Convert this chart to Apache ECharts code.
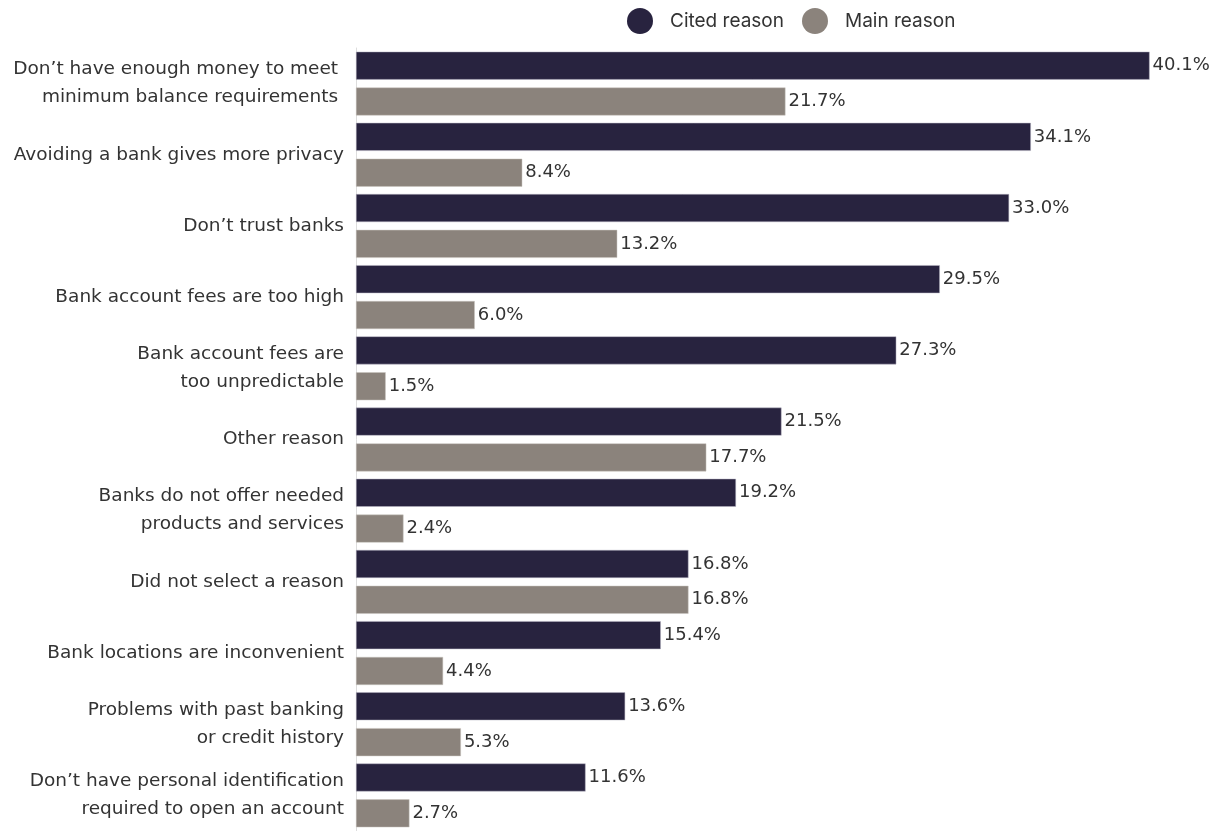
<!DOCTYPE html>
<html>
<head>
<meta charset="utf-8">
<script src="https://cdn.jsdelivr.net/npm/echarts@6/dist/echarts.min.js"></script>
<style>
    html, body { margin: 0; padding: 0; background: #fff; }
    #chart { width: 1221px; height: 831px; }
</style>
</head>
<body>
<div id="chart"></div>
<script>
// 原因（从上到下）
const reasons = [
    "Don\u2019t have enough money to meet \nminimum balance requirements ",
    "Avoiding a bank gives more privacy",
    "Don\u2019t trust banks",
    "Bank account fees are too high",
    "Bank account fees are\ntoo unpredictable",
    "Other reason",
    "Banks do not offer needed\nproducts and services",
    "Did not select a reason",
    "Bank locations are inconvenient",
    "Problems with past banking\nor credit history",
    "Don\u2019t have personal identification\nrequired to open an account"
]
const citedReason = [40.1, 34.1, 33.0, 29.5, 27.3, 21.5, 19.2, 16.8, 15.4, 13.6, 11.6]
const mainReason = [21.7, 8.4, 13.2, 6.0, 1.5, 17.7, 2.4, 16.8, 4.4, 5.3, 2.7]

const chart = echarts.init(document.getElementById('chart'))

const labelStyle = {
    show: true,
    position: 'right',
    distance: 3,
    color: '#333',
    fontSize: 18,
    fontFamily: 'DejaVu Sans',
    formatter: p => p.value.toFixed(1) + '%'
}

chart.setOption({
    animation: false,
    legend: {
        top: 3,
        left: 622,
        itemWidth: 26,
        itemHeight: 26,
        itemGap: 18,
        icon: 'circle',
        itemStyle: { borderWidth: 0 },
        textStyle: { color: '#333', fontSize: 19, fontFamily: 'Inter', padding: [0, 0, 0, 12] },
        data: ['Cited reason', 'Main reason']
    },
    grid: {
        left: 356,
        top: 48,
        width: 851,
        height: 789
    },
    xAxis: {
        type: 'value',
        min: 0,
        max: 43,
        show: false
    },
    yAxis: {
        type: 'category',
        inverse: true,
        data: reasons,
        axisLine: { lineStyle: { color: '#ddd', width: 1 } },
        axisTick: { show: false },
        axisLabel: {
            color: '#333',
            fontSize: 18.5,
            fontFamily: 'DejaVu Sans',
            lineHeight: 28,
            margin: 12,
            padding: [0, 0, 6, 0],
            align: 'right'
        }
    },
    series: [
        {
            name: 'Cited reason',
            type: 'bar',
            data: citedReason,
            barWidth: 28,
            barGap: '28%',
            itemStyle: { color: '#28233f', borderColor: '#b9b6c4', borderWidth: 0.5 },
            label: labelStyle
        },
        {
            name: 'Main reason',
            type: 'bar',
            data: mainReason,
            barWidth: 28,
            itemStyle: { color: '#8b837c', borderColor: '#c9c4bf', borderWidth: 0.5 },
            label: labelStyle
        }
    ]
})
</script>
</body>
</html>
